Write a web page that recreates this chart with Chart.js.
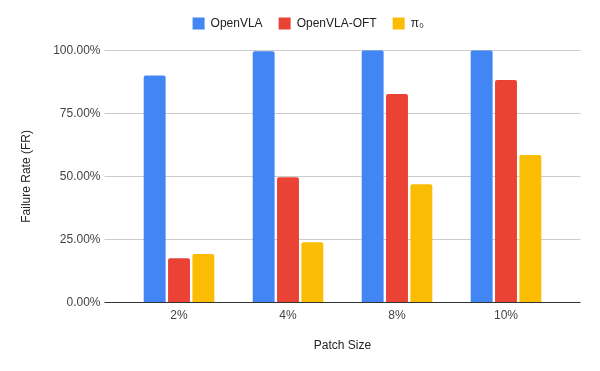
<!DOCTYPE html>
<html>
<head>
<meta charset="utf-8">
<script src="https://cdn.jsdelivr.net/npm/chart.js@4.4.1/dist/chart.umd.min.js"></script>
<style>
  html, body { margin: 0; padding: 0; background: #fff; }
  #wrap { width: 600px; height: 371px; position: relative; }
</style>
</head>
<body>
<div id="wrap"><canvas id="chart"></canvas></div>
<script>
// data (failure rate, %)
const patchSizes = ["2%", "4%", "8%", "10%"];
const openVLA = [90.0, 99.6, 100, 100];
const openVLAOFT = [17.5, 49.7, 82.7, 88.2];
const pi0 = [19.2, 23.9, 46.9, 58.5];
const yTicks = [0, 25, 50, 75, 100];

const FONT = "'Liberation Sans', Arial, sans-serif";
const EXT = 20; // gridlines run past the plot area on both sides

// legend: extra room below it, and nudged right like the original
const legendTweak = {
    id: 'legendTweak',
    beforeLayout(chart) {
        const lg = chart.legend;
        if (lg && !lg._patched) {
            const fit = lg.fit;
            lg.fit = function () {
                fit.call(this);
                this.height += 10.8;
            };
            lg._patched = true;
        }
    },
    afterLayout(chart) {
        const lg = chart.legend;
        if (lg) {
            lg.left += 22;
            lg.right += 22;
        }
    }
};

// draws the right-hand part of the horizontal gridlines
const gridExtend = {
    id: 'gridExtend',
    beforeDatasetsDraw(chart) {
        const y = chart.scales.y;
        const area = chart.chartArea;
        const c = chart.ctx;
        c.save();
        c.lineWidth = 1;
        yTicks.forEach(function (v) {
            const py = Math.round(y.getPixelForValue(v) - 0.5) + 0.5;
            c.strokeStyle = v === 0 ? '#333333' : '#cccccc';
            c.beginPath();
            c.moveTo(area.right - 1, py);
            c.lineTo(area.right + EXT, py);
            c.stroke();
        });
        c.restore();
    }
};

const ctx = document.getElementById("chart").getContext('2d');

new Chart(ctx, {
    type: 'bar',
    data: {
        labels: patchSizes,
        datasets: [{
            label: 'OpenVLA',
            data: openVLA,
            backgroundColor: '#4285F4'
        }, {
            label: 'OpenVLA-OFT',
            data: openVLAOFT,
            backgroundColor: '#EA4335'
        }, {
            label: 'π₀',
            data: pi0,
            backgroundColor: '#FBBC04'
        }]
    },
    options: {
        responsive: true,
        maintainAspectRatio: false,
        animation: false,
        datasets: {
            bar: {
                categoryPercentage: 0.67,
                barPercentage: 0.9,
                borderRadius: 2,
                borderSkipped: 'start'
            }
        },
        layout: {
            padding: { left: 12, right: 39.5, top: 1.5, bottom: 0 }
        },
        plugins: {
            legend: {
                position: 'top',
                labels: {
                    boxWidth: 12,
                    boxHeight: 12,
                    padding: 16,
                    color: '#222222',
                    font: { family: FONT, size: 12 }
                }
            },
            tooltip: { enabled: false }
        },
        scales: {
            x: {
                grid: { display: false, drawTicks: false },
                border: { display: false },
                ticks: {
                    color: '#444444',
                    padding: 6,
                    font: { family: FONT, size: 12 }
                },
                title: {
                    display: true,
                    text: 'Patch Size',
                    color: '#222222',
                    padding: { top: 9.2, bottom: 18.5 },
                    font: { family: FONT, size: 12 }
                }
            },
            y: {
                min: 0,
                max: 100,
                afterFit(scale) { scale.width = 112.5; },
                afterBuildTicks(scale) {
                    scale.ticks = yTicks.map(v => ({ value: v }));
                },
                grid: {
                    tickLength: EXT,
                    color: c => (c.tick && c.tick.value === 0) ? '#333333' : '#cccccc'
                },
                border: { display: false },
                ticks: {
                    color: '#444444',
                    padding: 4,
                    font: { family: FONT, size: 12 },
                    callback: v => v.toFixed(2) + '%'
                },
                title: {
                    display: true,
                    text: 'Failure Rate (FR)',
                    color: '#222222',
                    padding: { top: 7, bottom: 0 },
                    font: { family: FONT, size: 12 }
                }
            }
        }
    },
    plugins: [legendTweak, gridExtend]
});
</script>
</body>
</html>
